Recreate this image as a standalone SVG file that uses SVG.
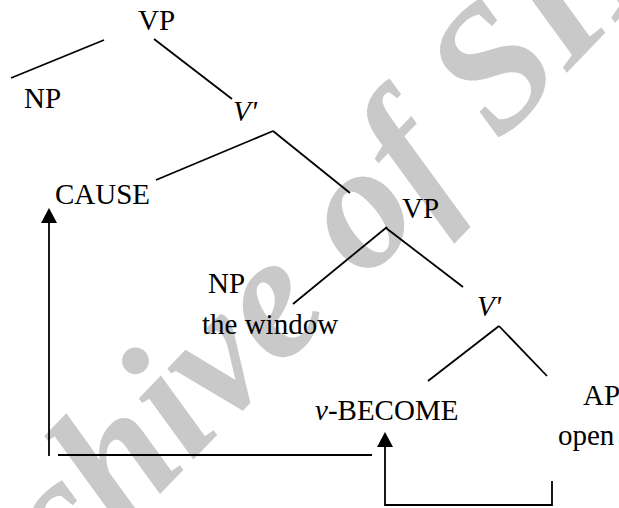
<svg xmlns="http://www.w3.org/2000/svg" width="619" height="508" viewBox="0 0 619 508">
<style>
.t{font-family:"Liberation Serif","Times New Roman",serif;font-size:29px;fill:#000}
.i{font-style:italic}
.c line,.c polyline{stroke:#000;stroke-width:1.8;fill:none}
.c polygon{fill:#000}
.wm{font-family:"Liberation Serif","Times New Roman",serif;font-size:178px;font-weight:bold;font-style:italic;fill:#c9c9c9}
</style>
<rect width="619" height="508" fill="#fff"/>
<text class="wm" transform="translate(-64,726) rotate(-46)">Archive of SID</text>
<g class="c" id="connectors">
<line x1="11" y1="78" x2="104" y2="40"/>
<line x1="154" y1="39" x2="232" y2="99"/>
<line x1="156" y1="180" x2="273" y2="131"/>
<line x1="273" y1="131" x2="350" y2="193"/>
<line x1="293" y1="304" x2="387" y2="227"/>
<line x1="386" y1="228" x2="463" y2="287"/>
<line x1="428" y1="381" x2="499" y2="326"/>
<line x1="499" y1="326" x2="547" y2="376"/>
<line x1="49" y1="456" x2="49" y2="220"/>
<polygon points="49,208 41,223 57,223"/>
<line x1="58" y1="455" x2="372" y2="455"/>
<polyline points="552,481 552,505 385,505 385,444"/>
<polygon points="385,432 377,447 393,447"/>
</g>
<g id="vp1"><text class="t" x="138" y="30">VP</text></g>
<g id="np1"><text class="t" x="24" y="108">NP</text></g>
<g id="vbar1"><text class="t i" x="233" y="121">V'</text></g>
<g id="cause"><text class="t" x="55" y="204">CAUSE</text></g>
<g id="vp2"><text class="t" x="402" y="218">VP</text></g>
<g id="np2"><text class="t" x="208" y="293">NP</text><text class="t" x="202" y="334">the window</text></g>
<g id="vbar2"><text class="t i" x="477" y="316">V'</text></g>
<g id="become"><text class="t" x="315" y="420"><tspan class="i">v</tspan>-BECOME</text></g>
<g id="ap"><text class="t" x="583" y="405">AP</text><text class="t" x="558" y="445">open</text></g>
</svg>
